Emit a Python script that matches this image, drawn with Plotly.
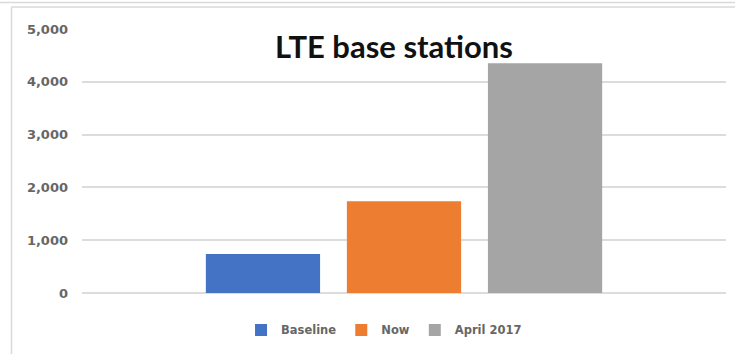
import plotly.graph_objects as go

categories = ["Baseline", "Now", "April 2017"]
values = [740, 1740, 4350]
colors = ["#4472C4", "#ED7D31", "#A5A5A5"]
group = ["LTE base stations"]
y_ticks = [0, 1000, 2000, 3000, 4000, 5000]
y_tick_labels = ["0", "1,000", "2,000", "3,000", "4,000", "5,000"]

fig = go.Figure()
for name, val, col in zip(categories, values, colors):
    fig.add_trace(go.Bar(x=group, y=[val], name=name, marker=dict(color=col, line=dict(width=0))))

fig.update_layout(
    width=735, height=354,
    margin=dict(l=82, r=9, t=29, b=61),
    paper_bgcolor="white", plot_bgcolor="white",
    barmode="group", bargap=0.343, bargroupgap=0.19,
    title=dict(text="<b>LTE base stations</b>", font=dict(family="Lato", size=31, color="#111111"),
               xref="paper", x=0.4845, xanchor="center", yref="container", y=1 - 47/354, yanchor="middle"),
    xaxis=dict(showticklabels=False, showgrid=False, zeroline=False, showline=False, ticks=""),
    yaxis=dict(range=[0, 5000], tickvals=y_ticks, ticktext=y_tick_labels,
               showgrid=True, gridcolor="#DCDCDC", gridwidth=1.5,
               zeroline=True, zerolinecolor="#DCDCDC", zerolinewidth=1.5,
               showline=False, ticks="", ticklabelstandoff=13,
               tickfont=dict(family="DejaVu Sans", size=13, color="#666666", weight="bold")),
    legend=dict(orientation="h", x=0.469, xanchor="center", y=-0.14, yanchor="middle",
                font=dict(family="DejaVu Sans", size=11.5, color="#666666", weight="bold"),
                itemwidth=30, traceorder="normal"),
    showlegend=True,
)

# frame of the original screenshot
fig.add_shape(type="line", xref="paper", yref="paper", x0=-0.1095, x1=-0.1095, y0=1.083, y1=-0.25,
              line=dict(color="#D9D9D9", width=1.5))
fig.add_shape(type="line", xref="paper", yref="paper", x0=-0.1095, x1=1.02, y0=1.083, y1=1.083,
              line=dict(color="#D9D9D9", width=1.5))
fig.add_shape(type="line", xref="paper", yref="paper", x0=-0.2, x1=1.02, y0=1.1, y1=1.1,
              line=dict(color="#D9D9D9", width=1.5))

fig.write_html("out.html")
